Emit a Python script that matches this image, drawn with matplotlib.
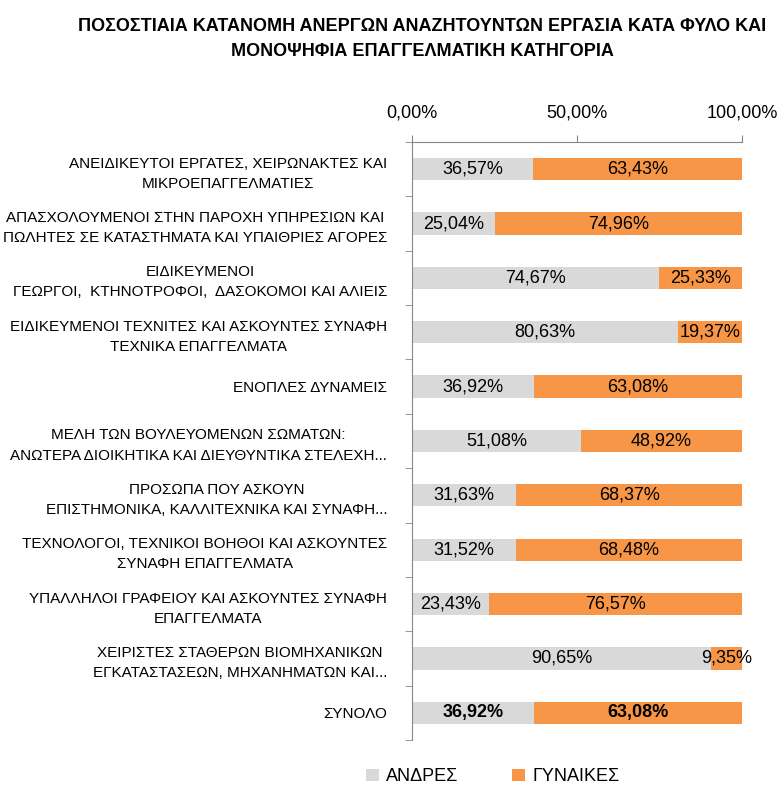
import matplotlib.pyplot as plt
import numpy as np

plt.rcParams['font.family'] = ['Liberation Sans Narrow', 'Liberation Sans', 'DejaVu Sans']

# κατηγορίες (από πάνω προς τα κάτω)
categories = [
    "ΑΝΕΙΔΙΚΕΥΤΟΙ ΕΡΓΑΤΕΣ, ΧΕΙΡΩΝΑΚΤΕΣ ΚΑΙ\nΜΙΚΡΟΕΠΑΓΓΕΛΜΑΤΙΕΣ",
    "ΑΠΑΣΧΟΛΟΥΜΕΝΟΙ ΣΤΗΝ ΠΑΡΟΧΗ ΥΠΗΡΕΣΙΩΝ ΚΑΙ\nΠΩΛΗΤΕΣ ΣΕ ΚΑΤΑΣΤΗΜΑΤΑ ΚΑΙ ΥΠΑΙΘΡΙΕΣ ΑΓΟΡΕΣ",
    "ΕΙΔΙΚΕΥΜΕΝΟΙ\nΓΕΩΡΓΟΙ,  ΚΤΗΝΟΤΡΟΦΟΙ,  ΔΑΣΟΚΟΜΟΙ ΚΑΙ ΑΛΙΕΙΣ",
    "ΕΙΔΙΚΕΥΜΕΝΟΙ ΤΕΧΝΙΤΕΣ ΚΑΙ ΑΣΚΟΥΝΤΕΣ ΣΥΝΑΦΗ\nΤΕΧΝΙΚΑ ΕΠΑΓΓΕΛΜΑΤΑ",
    "ΕΝΟΠΛΕΣ ΔΥΝΑΜΕΙΣ",
    "ΜΕΛΗ ΤΩΝ ΒΟΥΛΕΥΟΜΕΝΩΝ ΣΩΜΑΤΩΝ:\nΑΝΩΤΕΡΑ ΔΙΟΙΚΗΤΙΚΑ ΚΑΙ ΔΙΕΥΘΥΝΤΙΚΑ ΣΤΕΛΕΧΗ...",
    "ΠΡΟΣΩΠΑ ΠΟΥ ΑΣΚΟΥΝ\nΕΠΙΣΤΗΜΟΝΙΚΑ, ΚΑΛΛΙΤΕΧΝΙΚΑ ΚΑΙ ΣΥΝΑΦΗ...",
    "ΤΕΧΝΟΛΟΓΟΙ, ΤΕΧΝΙΚΟΙ ΒΟΗΘΟΙ ΚΑΙ ΑΣΚΟΥΝΤΕΣ\nΣΥΝΑΦΗ ΕΠΑΓΓΕΛΜΑΤΑ",
    "ΥΠΑΛΛΗΛΟΙ ΓΡΑΦΕΙΟΥ ΚΑΙ ΑΣΚΟΥΝΤΕΣ ΣΥΝΑΦΗ\nΕΠΑΓΓΕΛΜΑΤΑ",
    "ΧΕΙΡΙΣΤΕΣ ΣΤΑΘΕΡΩΝ ΒΙΟΜΗΧΑΝΙΚΩΝ\nΕΓΚΑΤΑΣΤΑΣΕΩΝ, ΜΗΧΑΝΗΜΑΤΩΝ ΚΑΙ...",
    "ΣΥΝΟΛΟ",
]
andres = [36.57, 25.04, 74.67, 80.63, 36.92, 51.08, 31.63, 31.52, 23.43, 90.65, 36.92]
gynaikes = [63.43, 74.96, 25.33, 19.37, 63.08, 48.92, 68.37, 68.48, 76.57, 9.35, 63.08]
xticks = [0, 50, 100]
xtick_labels = ["0,00%", "50,00%", "100,00%"]

grey = "#D9D9D9"
orange = "#F79646"

fig = plt.figure(figsize=(7.82, 7.92), dpi=100)
ax = fig.add_axes([0.527, 0.0657, 0.422, 0.755])

n = len(categories)
y = np.arange(n)
ax.barh(y, andres, height=0.41, color=grey, label="ΑΝΔΡΕΣ")
ax.barh(y, gynaikes, left=andres, height=0.41, color=orange, label="ΓΥΝΑΙΚΕΣ")

def fmt(v):
    return ("%.2f%%" % v).replace(".", ",")

for i in range(n):
    w = 'bold' if i == n - 1 else 'normal'
    ax.text(andres[i] / 2, i, fmt(andres[i]), ha='center', va='center', fontsize=13, fontweight=w)
    ax.text(andres[i] + gynaikes[i] / 2, i, fmt(gynaikes[i]), ha='center', va='center', fontsize=13, fontweight=w)

ax.set_ylim(n - 0.5, -0.5)
ax.set_xlim(0, 100)
ax.set_yticks(y)
ax.set_yticklabels(categories, fontsize=11, multialignment='center', ha='right', linespacing=1.55)
ax.set_yticks(np.arange(n + 1) - 0.5, minor=True)
ax.tick_params(axis='y', which='major', length=0, pad=18)
ax.tick_params(axis='y', which='minor', length=5, direction='out', color='#868686')

ax.xaxis.tick_top()
ax.set_xticks(xticks)
ax.set_xticklabels(xtick_labels, fontsize=13)
ax.tick_params(axis='x', length=5, direction='out', color='#868686', pad=10)

for s in ['right', 'bottom']:
    ax.spines[s].set_visible(False)
ax.spines['left'].set_color('#868686')
ax.spines['top'].set_color('#868686')

fig.text(0.54, 0.977, "ΠΟΣΟΣΤΙΑΙΑ ΚΑΤΑΝΟΜΗ ΑΝΕΡΓΩΝ ΑΝΑΖΗΤΟΥΝΤΩΝ ΕΡΓΑΣΙΑ ΚΑΤΑ ΦΥΛΟ ΚΑΙ\nΜΟΝΟΨΗΦΙΑ ΕΠΑΓΓΕΛΜΑΤΙΚΗ ΚΑΤΗΓΟΡΙΑ",
         ha='center', va='top', fontsize=13, fontweight='bold', linespacing=1.6)

fig.legend(loc='lower center', bbox_to_anchor=(0.63, -0.012), ncol=2, frameon=False,
           fontsize=13, handlelength=0.7, handleheight=0.7, columnspacing=3, handletextpad=0.4)

fig.savefig("out.png", dpi=100)
